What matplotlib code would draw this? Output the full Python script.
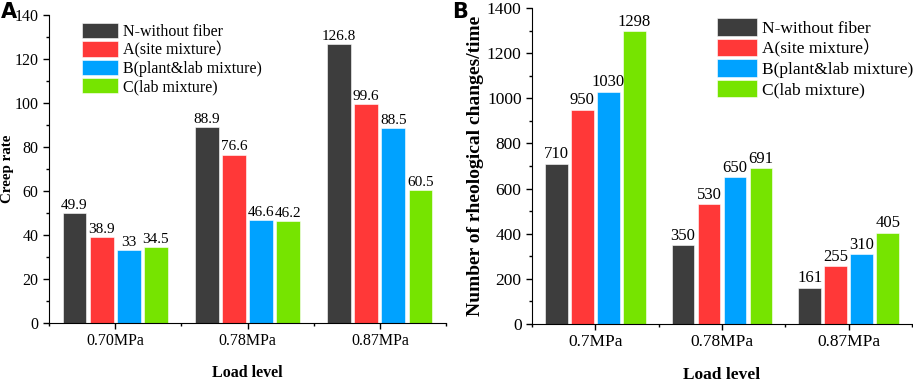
import matplotlib
matplotlib.use("Agg")
import matplotlib.pyplot as plt
import numpy as np
from matplotlib.ticker import MultipleLocator

plt.rcParams["font.family"] = ["Liberation Serif", "Noto Sans CJK SC", "DejaVu Serif"]

SERIES = ["N-without fiber", "A(site mixture\uff09", "B(plant&lab mixture)", "C(lab mixture)"]
COLORS = ["#3d3d3d", "#ff3838", "#00a2ff", "#76e400"]

LOADS_A = ["0.70MPa", "0.78MPa", "0.87MPa"]
CREEP = [
    [49.9, 88.9, 126.8],
    [38.9, 76.6, 99.6],
    [33, 46.6, 88.5],
    [34.5, 46.2, 60.5],
]

LOADS_B = ["0.7MPa", "0.78MPa", "0.87MPa"]
RHEO = [
    [710, 350, 161],
    [950, 530, 255],
    [1030, 650, 310],
    [1298, 691, 405],
]

STEP, WIDTH = 0.205, 0.18


def panel(ax, cats, data, ymax, ymajor, yminor, ylabel, fs, afs, yfs, xpad,
          leg_xy, leg):
    x = np.arange(1, len(cats) + 1)
    for i, (vals, c, lab) in enumerate(zip(data, COLORS, SERIES)):
        pos = x + (i - 1.5) * STEP
        bars = ax.bar(pos, vals, WIDTH, color=c, label=lab, edgecolor="white", lw=0.4)
        for b, v in zip(bars, vals):
            ax.text(b.get_x() + b.get_width() / 2, v + ymax * 0.004, f"{v:g}",
                    ha="center", va="bottom", fontsize=afs)
    ax.set_xlim(0.5, len(cats) + 0.5)
    ax.set_ylim(0, ymax)
    ax.set_xticks(x)
    ax.set_xticklabels(cats, fontsize=fs)
    ax.set_xticks(np.arange(0.5, len(cats) + 1), minor=True)
    ax.yaxis.set_major_locator(MultipleLocator(ymajor))
    ax.yaxis.set_minor_locator(MultipleLocator(yminor))
    ax.tick_params(axis="y", labelsize=fs)
    ax.tick_params(which="both", direction="out", width=1)
    ax.tick_params(which="major", length=4)
    ax.tick_params(which="minor", length=2.5)
    for s in ("top", "right"):
        ax.spines[s].set_visible(False)
    ax.set_xlabel("Load level", fontsize=fs, fontweight="bold", labelpad=xpad)
    ax.set_ylabel(ylabel, fontsize=yfs, fontweight="bold", labelpad=2)
    ax.legend(loc="upper left", bbox_to_anchor=leg_xy, frameon=False,
              fontsize=fs, handlelength=leg[0], handleheight=leg[1],
              labelspacing=leg[2], borderaxespad=0, handletextpad=0.3,
              borderpad=0)


fig = plt.figure(figsize=(9.13, 3.82), dpi=100)
axA = fig.add_axes([0.0537, 0.1545, 0.4348, 0.806])
axB = fig.add_axes([0.5827, 0.152, 0.4163, 0.827])

panel(axA, LOADS_A, CREEP, 140, 20, 10, "Creep rate", 11.5, 11, 10.8, 11,
      (0.083, 0.975), (2.25, 1.1, 0.08))
axA.yaxis.set_label_coords(-0.087, 0.5)
panel(axB, LOADS_B, RHEO, 1400, 200, 100, "Number of rheological changes/time",
      12.5, 12, 14, 12, (0.487, 0.968), (2.3, 1.2, 0.1))

fig.text(0.001, 0.995, "A", fontsize=15, fontweight="bold", family="DejaVu Sans",
         ha="left", va="top")
fig.text(0.495, 0.995, "B", fontsize=15, fontweight="bold", family="DejaVu Sans",
         ha="left", va="top")

fig.savefig("out.png", dpi=100)
